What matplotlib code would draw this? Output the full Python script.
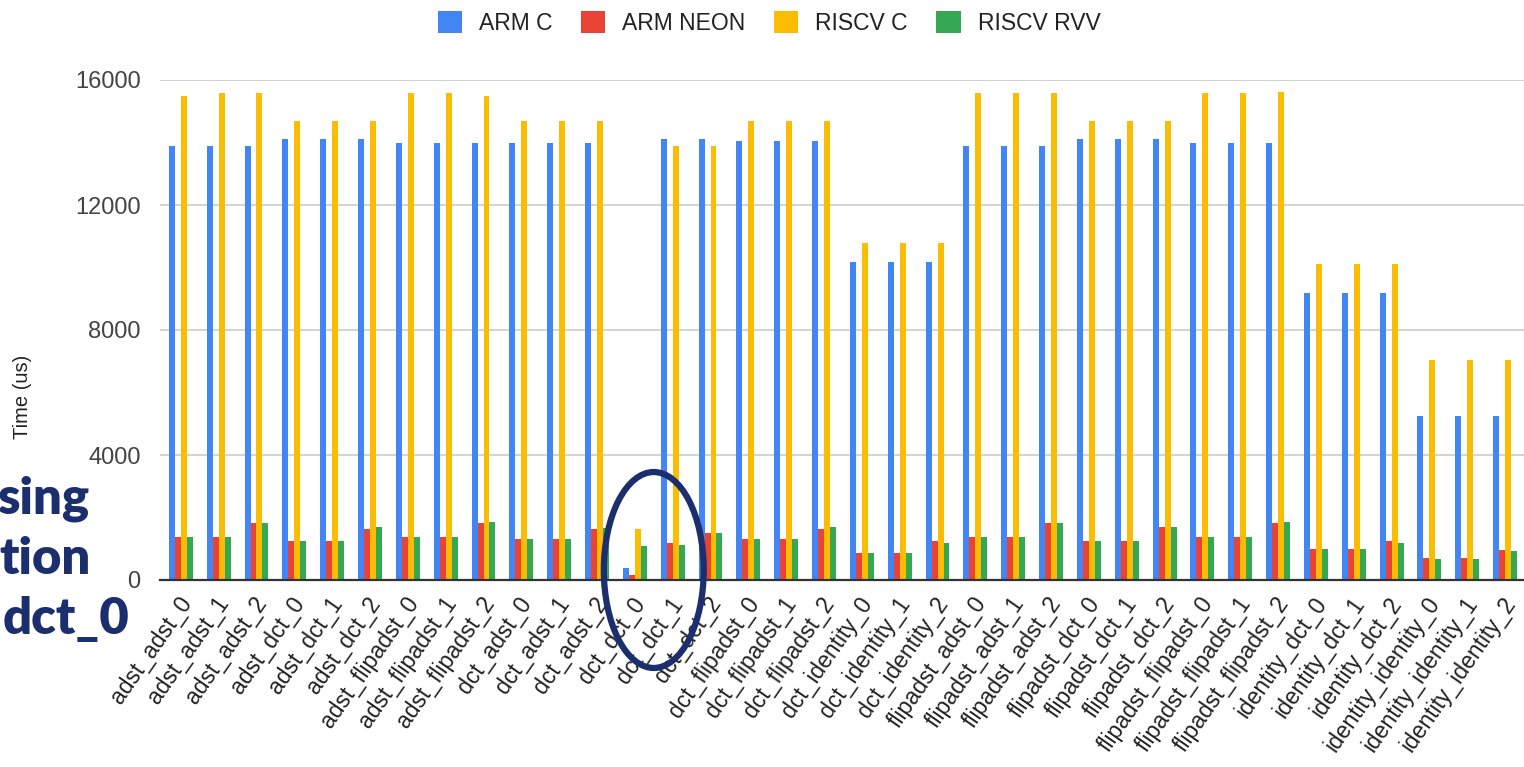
import numpy as np
import matplotlib
matplotlib.use('Agg')
import matplotlib.pyplot as plt
from matplotlib.patches import Ellipse
from matplotlib.transforms import ScaledTranslation

W, H = 1524, 767

# transform names on the x axis
labels = ['adst_adst_0', 'adst_adst_1', 'adst_adst_2',
          'adst_dct_0', 'adst_dct_1', 'adst_dct_2',
          'adst_flipadst_0', 'adst_flipadst_1', 'adst_flipadst_2',
          'dct_adst_0', 'dct_adst_1', 'dct_adst_2',
          'dct_dct_0', 'dct_dct_1', 'dct_dct_2',
          'dct_flipadst_0', 'dct_flipadst_1', 'dct_flipadst_2',
          'dct_identity_0', 'dct_identity_1', 'dct_identity_2',
          'flipadst_adst_0', 'flipadst_adst_1', 'flipadst_adst_2',
          'flipadst_dct_0', 'flipadst_dct_1', 'flipadst_dct_2',
          'flipadst_flipadst_0', 'flipadst_flipadst_1', 'flipadst_flipadst_2',
          'identity_dct_0', 'identity_dct_1', 'identity_dct_2',
          'identity_identity_0', 'identity_identity_1', 'identity_identity_2']

# times in us
arm_c = [13900, 13900, 13900, 14100, 14100, 14100, 13970, 13970, 13970,
         13970, 13970, 13970, 400, 14100, 14100, 14040, 14040, 14040,
         10190, 10190, 10190, 13900, 13900, 13900, 14100, 14100, 14100,
         13970, 13970, 13970, 9170, 9170, 9170, 5250, 5250, 5250]
arm_neon = [1370, 1370, 1820, 1250, 1250, 1620, 1370, 1370, 1820,
            1300, 1300, 1620, 160, 1180, 1490, 1300, 1300, 1620,
            860, 860, 1250, 1370, 1370, 1820, 1250, 1250, 1690,
            1370, 1370, 1820, 990, 990, 1250, 720, 720, 960]
riscv_c = [15500, 15570, 15570, 14680, 14680, 14680, 15570, 15570, 15500,
           14680, 14680, 14680, 1620, 13900, 13900, 14680, 14680, 14680,
           10770, 10770, 10770, 15570, 15570, 15570, 14680, 14680, 14680,
           15570, 15570, 15625, 10100, 10100, 10100, 7030, 7030, 7030]
riscv_rvv = [1370, 1370, 1820, 1250, 1250, 1690, 1370, 1370, 1870,
             1300, 1300, 1650, 1100, 1120, 1490, 1300, 1300, 1690,
             860, 860, 1180, 1370, 1370, 1820, 1250, 1250, 1690,
             1370, 1370, 1870, 990, 990, 1180, 660, 660, 915]

series = ['ARM C', 'ARM NEON', 'RISCV C', 'RISCV RVV']
colors = ['#4285f4', '#ea4335', '#fbbc04', '#34a853']
y_ticks = [0, 4000, 8000, 12000, 16000]

plt.rcParams['font.family'] = ['Liberation Sans', 'DejaVu Sans']

fig = plt.figure(figsize=(W / 100, H / 100), dpi=100)
ax = fig.add_axes([160 / W, 1 - 580 / H, 1 - 160 / W, 500 / H])

x = np.arange(len(labels))
bw = 0.158
for i, (name, vals, c) in enumerate(zip(series, [arm_c, arm_neon, riscv_c, riscv_rvv], colors)):
    ax.bar(x + (i - 1.5) * bw, vals, bw, color=c, label=name, zorder=3)

ax.set_xlim(-0.55, 35.5)
ax.set_ylim(0, 16000)
ax.set_yticks(y_ticks)
ax.set_yticklabels([str(v) for v in y_ticks], fontsize=17, color='#444444')
ax.tick_params(axis='y', length=0, pad=14)
ax.tick_params(axis='x', length=0, pad=14)
ax.grid(axis='y', color='#cccccc', linewidth=1.2, zorder=0)
for s in ['top', 'right', 'left']:
    ax.spines[s].set_visible(False)
ax.spines['bottom'].set_color('#333333')
ax.spines['bottom'].set_linewidth(1.6)
ax.spines['bottom'].set_zorder(4)

ax.set_xticks(x)
ax.set_xticklabels(labels, rotation=55, ha='right', va='center',
                   rotation_mode='anchor', fontsize=16.5, color='#222222')
shift = ScaledTranslation(6 / 100, 0, fig.dpi_scale_trans)
for t in ax.get_xticklabels():
    t.set_transform(t.get_transform() + shift)

fig.text(22 / W, 1 - 397 / H, 'Time (us)', rotation=90, ha='center', va='center',
         fontsize=14.5, color='#222222')

leg = fig.legend(loc='center', bbox_to_anchor=(769 / W, 1 - 23 / H), ncol=4,
                 frameon=False, fontsize=16.5, handlelength=1.05, handleheight=1.05,
                 handletextpad=0.75, columnspacing=1.25)
for t in leg.get_texts():
    t.set_color('#222222')

# highlight around dct_dct_0
navy = '#1b2e6e'
ax.add_patch(Ellipse((12.5, 320), 2.64, 6270, fill=False, edgecolor=navy,
                     linewidth=4.5, clip_on=False, zorder=6))

# slide text cut off on the left
for txt, xr, yb in [('sing', 89, 514), ('tion', 91, 574), ('dct_0', 129, 634)]:
    fig.text(xr / W, 1 - yb / H, txt, ha='right', va='baseline', fontsize=36.5,
             fontweight='heavy', color=navy, family=['Lato', 'DejaVu Sans'])

fig.savefig('out.png', dpi=100, facecolor='white')
